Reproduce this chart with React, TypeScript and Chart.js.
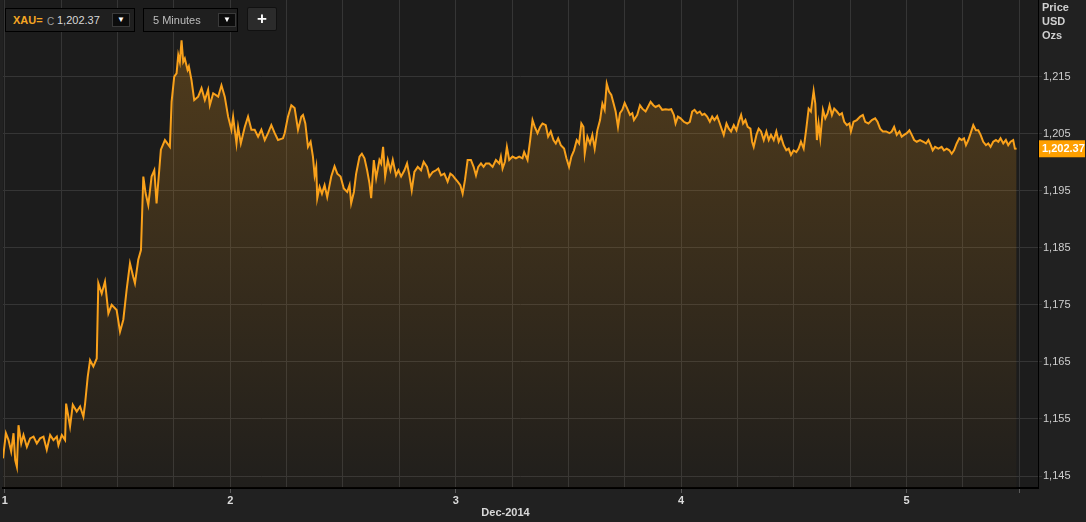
import React, { useEffect, useRef } from "react";
import { Chart, registerables } from "chart.js";

Chart.register(...registerables);

// Hours since 1 Dec 2014 00:00
const hours: number[] = [
  -0.2, 0.11, 0.39, 0.67, 0.92, 1.1, 1.28, 1.45, 1.74, 1.98,
  2.34, 2.69, 3.05, 3.4, 3.75, 4.11, 4.46, 4.82, 5.17, 5.53,
  5.7, 6.06, 6.41, 6.52, 6.94, 7.23, 7.65, 8.01, 8.36, 8.54,
  8.82, 9.07, 9.42, 9.78, 9.95, 10.31, 10.66, 11.02, 11.37, 11.9,
  12.26, 12.61, 12.96, 13.32, 13.67, 13.85, 14.2, 14.49, 14.74, 14.98,
  15.27, 15.62, 15.91, 16.15, 16.61, 17.04, 17.57, 17.75, 18.03, 18.28,
  18.46, 18.63, 18.81, 18.99, 19.16, 19.45, 19.59, 19.87, 20.16, 20.58,
  20.94, 21.29, 21.64, 21.82, 22.18, 22.71, 23.06, 23.41, 23.77, 24.12,
  24.3, 24.66, 24.83, 25.12, 25.54, 25.89, 26.25, 26.6, 26.96, 27.31,
  27.67, 28.02, 28.37, 28.73, 29.08, 29.61, 29.79, 30.14, 30.5, 30.85,
  31.21, 31.56,
  31.74, 31.99, 32.27, 32.55, 32.8, 32.98, 33.15, 33.26, 33.51, 33.76,
  34.04, 34.32, 34.75, 35.1, 35.39, 35.74, 36.09, 36.45, 36.7, 36.87,
  37.16, 37.4, 37.76, 38.01, 38.29, 38.57, 38.82, 39.0, 39.28, 39.53,
  39.88, 40.06, 40.27, 40.49, 40.77, 41.05, 41.3, 41.65, 41.9, 42.19,
  42.54, 42.82, 43.07, 43.32, 43.6, 43.96, 44.31, 44.59, 44.95, 45.2,
  45.55, 45.91, 46.15, 46.44, 46.79, 47.14, 47.43, 47.68, 47.92, 48.21,
  48.49, 48.74, 48.99, 49.27, 49.62, 49.91, 50.16, 50.4, 50.69, 50.97,
  51.22, 51.57, 51.93, 52.28, 52.64, 52.81, 52.99, 53.24, 53.45, 53.7,
  54.05, 54.41, 54.76, 55.11, 55.29, 55.65, 55.93, 56.18, 56.42, 56.71,
  56.99, 57.24, 57.59, 57.84, 58.12, 58.41, 58.66, 58.91, 59.19, 59.54,
  59.79, 60.07, 60.32, 60.6, 60.89, 61.14, 61.38, 61.6, 61.74, 62.02,
  62.3, 62.55, 62.8, 63.08, 63.37, 63.62, 63.86, 64.08, 64.32, 64.57,
  64.86, 65.03, 65.28, 65.49, 65.74, 65.99, 66.27, 66.56, 66.8, 66.98,
  67.33, 67.62, 67.87, 68.22, 68.47, 68.75, 69.04, 69.28, 69.64, 69.99,
  70.35, 70.7, 70.95, 71.23, 71.41, 71.66, 71.94,
  72.29, 72.65, 72.93, 73.18, 73.43, 73.71, 73.99, 74.24, 74.49, 74.77,
  75.06, 75.31, 75.55, 75.84, 76.12, 76.37, 76.54, 76.83, 77.08, 77.32,
  77.61, 77.89, 78.14, 78.39, 78.6, 78.85, 79.09, 79.38, 79.56, 79.73,
  80.02, 80.26, 80.51, 80.8, 81.08, 81.33, 81.57, 81.86, 82.14, 82.39,
  82.64, 82.92, 83.2, 83.45, 83.7, 83.98, 84.27, 84.51, 84.76, 85.05,
  85.33, 85.58, 85.82, 86.11, 86.29, 86.46, 86.64, 86.82, 87.1, 87.35,
  87.6, 87.81, 88.06, 88.3, 88.59, 88.87, 89.12, 89.37, 89.65, 89.93,
  90.08, 90.36, 90.71, 91.07, 91.35, 91.6, 91.95, 92.31, 92.66, 92.91,
  93.19, 93.48, 93.83, 94.18, 94.43, 94.68, 94.96, 95.25, 95.49, 95.74,
  96.03, 96.31, 96.56, 96.81, 97.09, 97.44, 97.8, 98.08, 98.33, 98.58,
  98.79, 99.04, 99.39, 99.74, 99.99, 100.28, 100.56, 100.81, 101.06, 101.34,
  101.62, 101.87, 102.12, 102.33, 102.58, 102.83, 103.11, 103.39, 103.64, 103.89,
  104.17, 104.46, 104.7, 104.95, 105.23, 105.52, 105.77, 106.01, 106.3, 106.58,
  106.83, 107.08, 107.36, 107.54, 107.72,
];

// XAU= price, USD per ounce
const prices: number[] = [
  1148.1, 1152.5, 1151.3, 1149.3, 1152.5, 1147.8, 1146.6, 1153.9, 1150.7, 1152.2,
  1150.1, 1151.6, 1151.9, 1150.7, 1151.6, 1151.9, 1149.6, 1152.2, 1151.3, 1151.9,
  1150.4, 1152.2, 1151.3, 1157.7, 1153.7, 1157.5, 1156.3, 1157.2, 1155.4, 1157.7,
  1162.4, 1165.3, 1164.2, 1165.6, 1178.8, 1177.0, 1179.1, 1173.5, 1175.0, 1174.1,
  1170.3, 1172.4, 1177.6, 1182.3, 1179.9, 1178.8, 1182.9, 1184.6, 1197.5, 1194.6,
  1192.5, 1197.5, 1198.6, 1192.8, 1202.2, 1203.9, 1202.7, 1210.6, 1215.0, 1215.6,
  1218.8, 1217.6, 1221.4, 1217.6, 1218.2, 1216.2, 1216.8, 1214.4, 1210.9, 1211.5,
  1213.0, 1210.9, 1212.7, 1210.0, 1212.1, 1211.5, 1213.5, 1211.5, 1208.0, 1205.7,
  1208.0, 1203.3, 1206.2, 1203.3, 1206.2, 1208.0, 1205.7, 1205.7, 1204.5, 1205.7,
  1203.9, 1205.1, 1206.5, 1205.1, 1203.9, 1204.2, 1205.1, 1208.0, 1210.0, 1209.5,
  1205.7, 1208.0,
  1208.3, 1206.8, 1202.7, 1203.6, 1201.0, 1197.7, 1199.2, 1193.7, 1195.7, 1194.5,
  1196.0, 1193.9, 1197.5, 1199.3, 1198.0, 1197.5, 1195.4, 1194.8, 1196.0, 1192.8,
  1194.8, 1198.0, 1201.0, 1201.5, 1200.7, 1198.6, 1196.3, 1193.7, 1200.4, 1197.2,
  1200.4, 1199.8, 1202.7, 1197.5, 1200.4, 1198.6, 1200.4, 1197.7, 1198.6, 1197.5,
  1198.6, 1199.8, 1197.7, 1195.1, 1198.3, 1199.2, 1198.6, 1200.1, 1199.2, 1197.5,
  1198.3, 1198.6, 1198.9, 1197.7, 1198.0, 1196.6, 1198.0, 1197.7, 1197.2, 1196.6,
  1196.0, 1194.5, 1196.9, 1200.4, 1200.4, 1199.2, 1197.7, 1199.2, 1199.8, 1199.2,
  1199.8, 1199.8, 1199.2, 1200.4, 1199.8, 1201.0, 1198.9, 1200.1, 1202.7, 1200.4,
  1201.0, 1200.7, 1201.0, 1200.7, 1201.8, 1200.4, 1203.9, 1207.4, 1206.2, 1205.1,
  1206.2, 1206.8, 1206.5, 1204.5, 1205.4, 1203.9, 1203.3, 1204.2, 1203.0, 1202.4,
  1200.7, 1199.2, 1201.0, 1202.1, 1203.9, 1203.3, 1206.8, 1206.2, 1201.5, 1204.5,
  1203.3, 1204.8, 1202.4, 1205.6, 1207.4, 1210.3, 1209.2, 1213.8, 1212.4, 1211.8,
  1210.0, 1208.9, 1206.2, 1208.6, 1209.2, 1210.4, 1209.4, 1208.3, 1208.6, 1207.4,
  1208.3, 1210.0, 1209.4, 1208.9, 1209.7, 1210.6, 1210.0, 1209.7, 1210.0, 1209.2,
  1209.3, 1209.2, 1209.3, 1208.3, 1206.8, 1208.0, 1207.7,
  1207.1, 1206.8, 1207.1, 1208.9, 1209.2, 1208.6, 1208.9, 1208.3, 1208.5, 1208.0,
  1207.1, 1208.0, 1207.4, 1208.1, 1206.8, 1205.6, 1204.8, 1206.8, 1205.9, 1205.4,
  1206.5, 1205.6, 1207.1, 1208.3, 1206.8, 1207.4, 1206.2, 1205.9, 1203.6, 1202.7,
  1204.8, 1205.9, 1205.4, 1203.9, 1205.4, 1203.9, 1204.8, 1203.9, 1205.4, 1203.6,
  1204.5, 1203.0, 1202.1, 1202.4, 1201.3, 1202.1, 1201.8, 1202.4, 1203.6, 1202.4,
  1205.9, 1209.4, 1208.9, 1212.5, 1210.3, 1203.9, 1206.8, 1204.2, 1209.2, 1207.7,
  1208.6, 1210.0, 1208.3, 1209.4, 1208.9, 1208.3, 1208.6, 1207.1, 1206.5, 1206.8,
  1205.4, 1207.1, 1207.4, 1208.0, 1208.3, 1207.1, 1206.8, 1207.4, 1207.7, 1207.1,
  1205.9, 1205.4, 1205.4, 1205.1, 1205.4, 1206.2, 1204.8, 1205.4, 1204.5, 1204.8,
  1205.1, 1205.6, 1204.8, 1203.9, 1203.6, 1203.9, 1203.6, 1203.3, 1203.9, 1203.0,
  1202.1, 1202.7, 1202.4, 1202.7, 1202.1, 1202.4, 1202.1, 1201.5, 1202.1, 1203.3,
  1204.2, 1203.9, 1204.2, 1203.0, 1203.9, 1205.1, 1206.5, 1205.6, 1205.6, 1204.8,
  1203.6, 1203.0, 1203.3, 1202.7, 1203.6, 1203.9, 1203.6, 1204.2, 1203.3, 1203.9,
  1203.0, 1203.6, 1203.9, 1202.4, 1202.37,
];

// Axis ticks
const gridHours: number[] = [0, 6, 12, 18, 24, 30, 36, 42, 48, 54, 60, 66, 72, 78, 84, 90, 96, 102, 108];
const dayLabels: string[] = ["1", "2", "3", "4", "5"];
const priceTicks: number[] = [1145, 1155, 1165, 1175, 1185, 1195, 1205, 1215];
const monthLabel = "Dec-2014";
const lastPrice = 1202.37;
const lastPriceText = "1,202.37";
const unitLines: string[] = ["Price", "USD", "Ozs"];

const FONT = 'Arial, "Liberation Sans", sans-serif';

export default function App() {
  const canvasRef = useRef<HTMLCanvasElement | null>(null);

  useEffect(() => {
    const canvas = canvasRef.current;
    if (!canvas) return;

    const bgPlugin = {
      id: "bgPlugin",
      beforeDraw(chart: any) {
        const { ctx, chartArea, width, height } = chart;
        ctx.save();
        ctx.fillStyle = "#212121";
        ctx.fillRect(0, 0, width, height);
        ctx.fillStyle = "#1c1c1c";
        ctx.fillRect(chartArea.left, 0, chartArea.right - chartArea.left, chartArea.bottom);
        ctx.restore();
      },
      afterDraw(chart: any) {
        const { ctx, chartArea, scales } = chart;
        const yS = scales.y;
        const xS = scales.x;
        ctx.save();
        ctx.fillStyle = "#d0d0d0";
        ctx.font = `bold 11px ${FONT}`;
        ctx.textBaseline = "middle";
        ctx.textAlign = "left";
        unitLines.forEach((t, i) => ctx.fillText(t, chartArea.right + 4, 8 + i * 14));
        const py = yS.getPixelForValue(lastPrice);
        ctx.fillStyle = "#ffa000";
        ctx.fillRect(chartArea.right + 1, py - 8.5, 46, 17);
        ctx.fillStyle = "#ffffff";
        ctx.font = `bold 11px ${FONT}`;
        ctx.fillText(lastPriceText, chartArea.right + 4, py + 0.5);
        ctx.fillStyle = "#d8d8d8";
        ctx.textAlign = "center";
        ctx.fillText(monthLabel, xS.getPixelForValue(53.3), 513);
        ctx.restore();
      },
    };

    const chart = new Chart(canvas, {
      type: "line",
      data: {
        datasets: [
          {
            data: hours.map((h, i) => ({ x: h, y: prices[i] })),
            borderColor: "#f9a11b",
            borderWidth: 2,
            pointRadius: 0,
            tension: 0,
            fill: "start",
            backgroundColor: (c: any) => {
              const ch = c.chart;
              const area = ch.chartArea;
              if (!area) return "rgba(247,160,27,0.12)";
              const g = ch.ctx.createLinearGradient(0, area.top + 40, 0, area.bottom);
              g.addColorStop(0, "rgba(247,160,27,0.24)");
              g.addColorStop(1, "rgba(247,160,27,0.02)");
              return g;
            },
          },
        ],
      },
      options: {
        animation: false,
        responsive: false,
        parsing: false as any,
        layout: { padding: { left: 3, top: 0, right: 0, bottom: 0 } },
        plugins: {
          legend: { display: false },
          tooltip: { enabled: false },
        },
        scales: {
          x: {
            type: "linear",
            min: -0.2,
            max: 110,
            afterBuildTicks: (s: any) => {
              s.ticks = gridHours.map((v) => ({ value: v }));
            },
            afterFit: (s: any) => {
              s.height = 34;
              s.paddingLeft = 0;
              s.paddingRight = 0;
            },
            ticks: {
              autoSkip: false,
              maxRotation: 0,
              padding: 1,
              color: "#dcdcdc",
              font: { family: FONT, size: 11, weight: "bold" },
              callback: (v: any) => (Number(v) % 24 === 0 ? dayLabels[Number(v) / 24] : ""),
            },
            grid: {
              color: "#353535",
              lineWidth: 1,
              tickLength: 5,
              tickColor: (c: any) =>
                c.tick && (c.tick.value % 24 === 0 || c.tick.value === 108) ? "#5a5a5a" : "rgba(0,0,0,0)",
            },
            border: { display: true, color: "#000000", width: 2 },
          },
          y: {
            type: "linear",
            position: "right",
            min: 1142.9,
            max: 1228.45,
            afterBuildTicks: (s: any) => {
              s.ticks = priceTicks.map((v) => ({ value: v }));
            },
            afterFit: (s: any) => {
              s.width = 48;
              s.paddingTop = 0;
              s.paddingBottom = 0;
            },
            ticks: {
              padding: 1,
              color: "#cfcfcf",
              font: { family: FONT, size: 11 },
              callback: (v: any) => Number(v).toLocaleString("en-US"),
            },
            grid: { color: "#353535", lineWidth: 1, tickLength: 4 },
            border: { display: true, color: "#000000", width: 1 },
          },
        },
      },
      plugins: [bgPlugin],
    } as any);

    return () => chart.destroy();
  }, []);

  const box: React.CSSProperties = {
    position: "absolute",
    top: 8,
    height: 24,
    boxSizing: "border-box",
    border: "1px solid #000",
    background: "#1f1f1f",
    fontFamily: FONT,
    fontSize: 11,
    lineHeight: "13px",
  };
  const btn: React.CSSProperties = {
    position: "absolute",
    top: 4,
    width: 18,
    height: 14,
    background: "#0c0c0c",
    border: "1px solid #3a3a3a",
    boxSizing: "border-box",
    color: "#fff",
    fontSize: 8,
    lineHeight: "12px",
    textAlign: "center",
  };

  return (
    <div style={{ position: "fixed", left: 0, top: 0, width: 1086, height: 522, overflow: "hidden", background: "#212121" }}>
      <canvas ref={canvasRef} width={1086} height={522} style={{ display: "block", width: 1086, height: 522 }} />
      <div style={{ ...box, left: 5, width: 130 }}>
        <span style={{ position: "absolute", left: 7, top: 5, color: "#f5a623", fontWeight: "bold" }}>XAU=</span>
        <span style={{ position: "absolute", left: 41, top: 6, color: "#9a9a9a", fontSize: 10 }}>C</span>
        <span style={{ position: "absolute", left: 51, top: 5, color: "#d8d8d8", fontSize: 11 }}>1,202.37</span>
        <div style={{ ...btn, left: 106 }}>▼</div>
      </div>
      <div style={{ ...box, left: 143, width: 95 }}>
        <span style={{ position: "absolute", left: 9, top: 5, color: "#bdbdbd", fontSize: 11 }}>5 Minutes</span>
        <div style={{ ...btn, left: 74 }}>▼</div>
      </div>
      <div
        style={{
          ...box,
          top: 7,
          left: 247,
          width: 30,
          background: "#2b2b2b",
          borderColor: "#111",
          borderRadius: 2,
          color: "#fff",
          fontWeight: "bold",
          fontSize: 17,
          textAlign: "center",
          lineHeight: "21px",
        }}
      >
        +
      </div>
    </div>
  );
}
